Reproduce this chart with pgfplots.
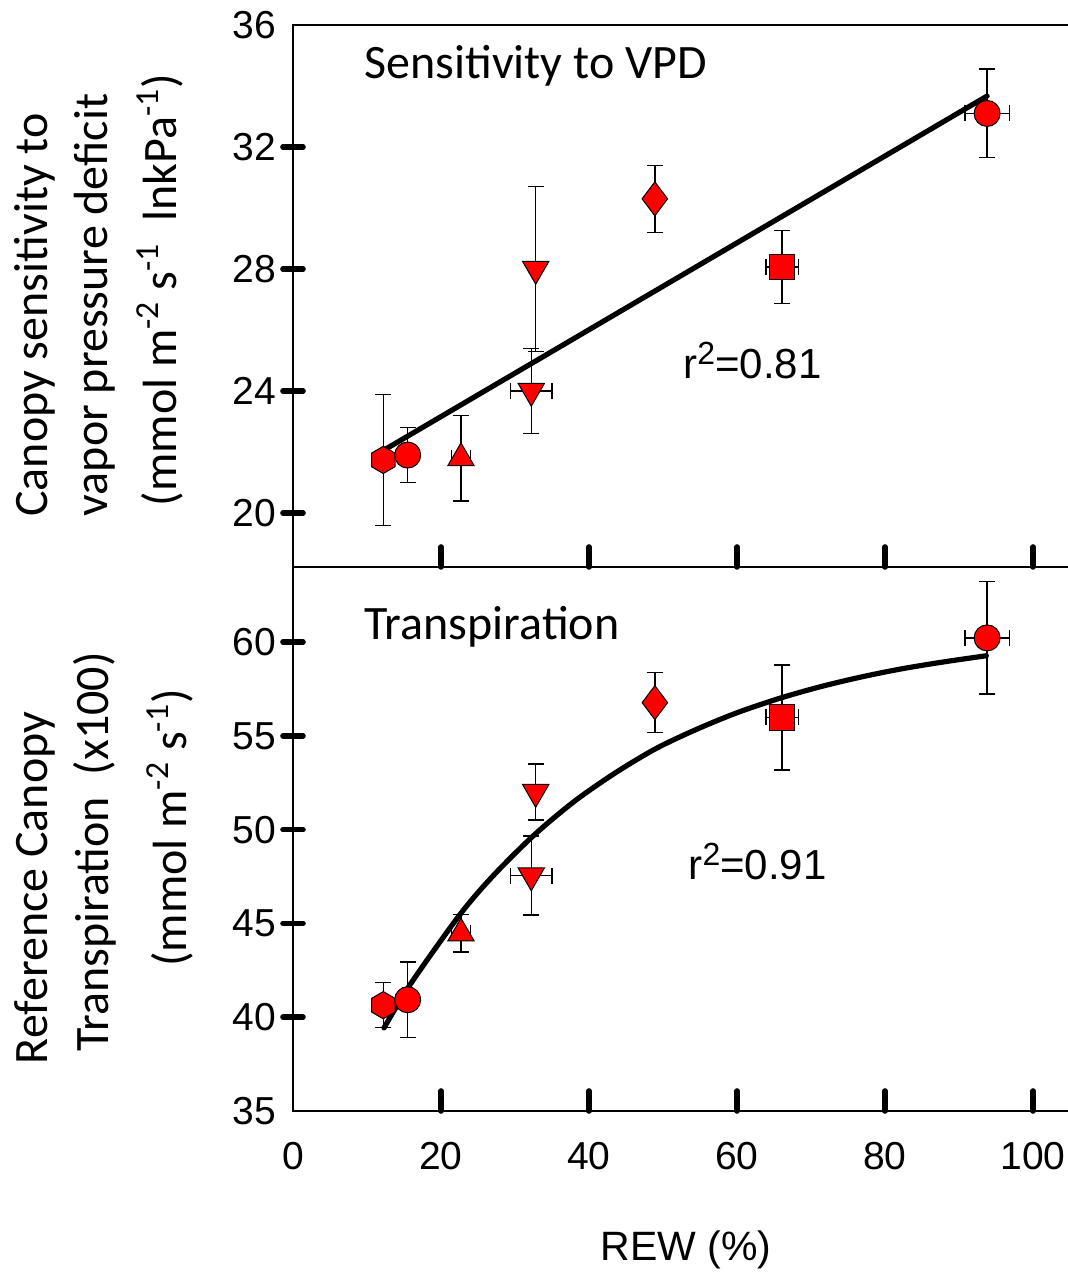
\documentclass[border=0pt]{standalone}
\usepackage{fontspec}
\setmainfont{Liberation Sans}
\newfontfamily\calibri{Carlito}
\usepackage{pgfplots}
\pgfplotsset{compat=1.18}

% hexagon with a vertex at top and bottom
\pgfdeclareplotmark{hexagon*}{%
  \pgfpathmoveto{\pgfqpointpolar{90}{\pgfplotmarksize}}%
  \pgfpathlineto{\pgfqpointpolar{150}{\pgfplotmarksize}}%
  \pgfpathlineto{\pgfqpointpolar{210}{\pgfplotmarksize}}%
  \pgfpathlineto{\pgfqpointpolar{270}{\pgfplotmarksize}}%
  \pgfpathlineto{\pgfqpointpolar{330}{\pgfplotmarksize}}%
  \pgfpathlineto{\pgfqpointpolar{30}{\pgfplotmarksize}}%
  \pgfpathclose
  \pgfusepathqfillstroke}

\newcommand{\rsq}[1]{r\raisebox{0.62ex}{\fontsize{16}{16}\selectfont 2}=#1}

\pgfplotsset{
  panel/.style={
    scale only axis, width=395pt,
    xmin=0, xmax=106.76,
    axis line style={black, line width=0.7pt},
    xtick={20,40,60,80,100}, xtick pos=left, xtick align=inside,
    ytick pos=left, ytick align=center,
    major tick length=10pt,
    every major tick/.append style={black, line width=2.8pt, line cap=round},
    tick label style={font=\fontsize{19.5}{21}\selectfont},
    /pgf/number format/assume math mode=true,
    extra y tick style={every major tick/.append style={draw=none}},
    extra x tick style={every major tick/.append style={draw=none}},
    clip=false,
  },
  pt/.style={only marks, mark options={draw=black, fill=red, line width=0.5pt},
    error bars/.cd, y dir=both, y explicit,
    error bar style={black, line width=0.75pt},
    error mark options={rotate=90, black, line width=0.75pt, mark size=4pt},
    /pgfplots/.cd},
  ptx/.style={pt, error bars/.cd, x dir=both, x explicit, /pgfplots/.cd},
  fit/.style={black, line width=2.6pt, line cap=round},
  circ/.style={mark=*, mark size=6.5pt},
  hexa/.style={mark=hexagon*, mark size=6.8pt},
  tup/.style={mark=triangle*, mark size=7.6pt},
  tdn/.style={mark=triangle*, mark size=7.6pt, mark options={rotate=180, draw=black, fill=red, line width=0.5pt}},
  diam/.style={mark=diamond*, mark size=8.5pt},
  sq/.style={mark=square*, mark size=6.3pt},
}

\begin{document}
\begin{tikzpicture}
\useasboundingbox (-146.5pt,-80.5pt) rectangle (387.5pt,555.5pt);

% bottom panel: transpiration
\begin{axis}[panel, at={(0,0)}, anchor=south west, height=272pt,
  ymin=35, ymax=64, ytick={40,45,50,55,60}, extra y ticks={35},
  xticklabels={20,40,60,80,100}, extra x ticks={0},
  xticklabel shift=12pt]
\addplot[fit, smooth] coordinates {(12.3,39.43) (15.9,41.78) (22.5,45.44) (27.0,47.52) (32.5,49.68) (38.0,51.5) (43.5,53.01) (49.0,54.31) (54.5,55.34) (60.0,56.23) (65.6,56.98) (71.1,57.6) (76.6,58.12) (82.1,58.56) (87.6,58.92) (93.7,59.27)};
\addplot[pt, hexa] coordinates {(12.2,40.64) +- (0,1.2)};
\addplot[pt, circ] coordinates {(15.5,40.93) +- (0,2.0)};
\addplot[ptx, tup] coordinates {(22.7,44.47) +- (1.3,1.0)};
\addplot[pt, tdn] coordinates {(32.8,52.0) +- (0,1.5)};
\addplot[ptx, tdn] coordinates {(32.2,47.55) +- (2.8,2.1)};
\addplot[ptx, diam] coordinates {(48.9,56.77) +- (0.7,1.6)};
\addplot[ptx, sq] coordinates {(66.1,55.98) +- (2.2,2.8)};
\addplot[ptx, circ] coordinates {(93.8,60.22) +- (3.0,3.0)};
\node[anchor=west, inner sep=0pt, font=\calibri\fontsize{24}{28}\selectfont] at (axis cs:9.6,60.8) {Transpiration};
\node[anchor=west, inner sep=0pt, font=\fontsize{21}{24}\selectfont] at (axis cs:53.4,48.3) {\rsq{0.91}};
\end{axis}

% top panel: sensitivity to VPD
\begin{axis}[panel, at={(0,272pt)}, anchor=south west, height=271pt,
  ymin=18.23, ymax=36, ytick={20,24,28,32}, extra y ticks={36}, xticklabels={}]
\addplot[fit] coordinates {(12.2,22.05) (93.8,33.67)};
\addplot[pt, hexa] coordinates {(12.2,21.74) +- (0,2.15)};
\addplot[pt, circ] coordinates {(15.5,21.9) +- (0,0.9)};
\addplot[ptx, tup] coordinates {(22.7,21.8) +- (1.3,1.4)};
\addplot[pt, tdn] coordinates {(32.8,28.0) +- (0,2.7)};
\addplot[ptx, tdn] coordinates {(32.2,24.0) +- (2.8,1.4)};
\addplot[ptx, diam] coordinates {(48.9,30.3) +- (0.7,1.1)};
\addplot[ptx, sq] coordinates {(66.1,28.07) +- (2.2,1.2)};
\addplot[ptx, circ] coordinates {(93.8,33.1) +- (3.0,1.45)};
\node[anchor=west, inner sep=0pt, font=\calibri\fontsize{24}{28}\selectfont] at (axis cs:9.6,34.66) {Sensitivity to VPD};
\node[anchor=west, inner sep=0pt, font=\fontsize{21}{24}\selectfont] at (axis cs:52.7,25.0) {\rsq{0.81}};
\end{axis}

% axis titles
\begin{scope}[every node/.style={rotate=90, font=\calibri\fontsize{24}{28}\selectfont}]
\node at (-129pt,398pt) {Canopy sensitivity to};
\node at (-99pt,403pt) {vapor pressure deficit};
\node at (-66.5pt,410.5pt) {(mmol m\textsuperscript{-2} s\textsuperscript{-1}\ \ lnkPa\textsuperscript{-1})};
\node at (-129pt,111.5pt) {Reference Canopy};
\node at (-99pt,129.5pt) {Transpiration\ \ (x100)};
\node at (-61.5pt,141.5pt) {(mmol m\textsuperscript{-2} s\textsuperscript{-1})};
\end{scope}
\node[font=\fontsize{20.5}{22}\selectfont] at (196.5pt,-69.5pt) {REW (\%)};
\end{tikzpicture}
\end{document}
